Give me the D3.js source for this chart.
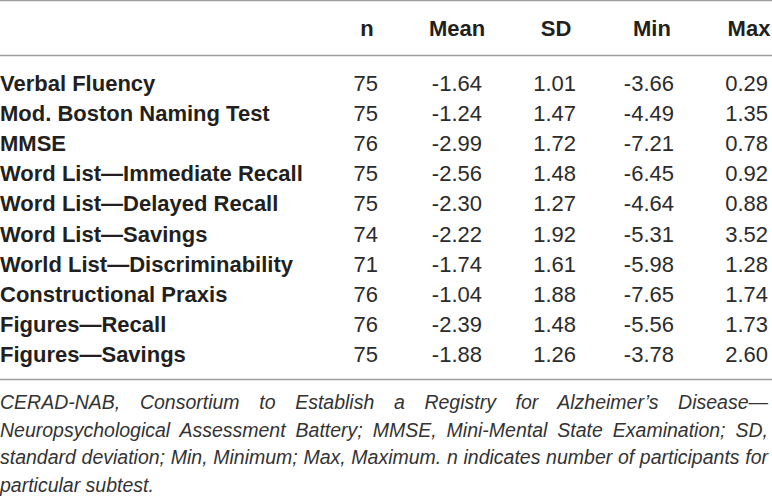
<!DOCTYPE html>
<html>
<head>
<meta charset="utf-8">
<script src="https://cdn.jsdelivr.net/npm/d3@7"></script>
<style>
  html, body { margin: 0; padding: 0; background: #fff; }
  svg { display: block; }
</style>
</head>
<body>
<svg id="chart" width="772" height="498"></svg>
<script>
// ---- data ----
const columns = ["n", "Mean", "SD", "Min", "Max"];
const subtests = [
  "Verbal Fluency",
  "Mod. Boston Naming Test",
  "MMSE",
  "Word List\u2014Immediate Recall",
  "Word List\u2014Delayed Recall",
  "Word List\u2014Savings",
  "World List\u2014Discriminability",
  "Constructional Praxis",
  "Figures\u2014Recall",
  "Figures\u2014Savings"
];
const nValues    = ["75", "75", "76", "75", "75", "74", "71", "76", "76", "75"];
const meanValues = ["-1.64", "-1.24", "-2.99", "-2.56", "-2.30", "-2.22", "-1.74", "-1.04", "-2.39", "-1.88"];
const sdValues   = ["1.01", "1.47", "1.72", "1.48", "1.27", "1.92", "1.61", "1.88", "1.48", "1.26"];
const minValues  = ["-3.66", "-4.49", "-7.21", "-6.45", "-4.64", "-5.31", "-5.98", "-7.65", "-5.56", "-3.78"];
const maxValues  = ["0.29", "1.35", "0.78", "0.92", "0.88", "3.52", "1.28", "1.74", "1.73", "2.60"];
const footnoteLines = [
  "CERAD-NAB, Consortium to Establish a Registry for Alzheimer\u2019s Disease\u2014",
  "Neuropsychological Assessment Battery; MMSE, Mini-Mental State Examination; SD,",
  "standard deviation; Min, Minimum; Max, Maximum. n indicates number of participants for",
  "particular subtest."
];

// ---- layout ----
const svg = d3.select("#chart");
const W = 772;
const font = "'Liberation Sans', Arial, Helvetica, sans-serif";
const valueCols = [nValues, meanValues, sdValues, minValues, maxValues];

const yRow = d3.scalePoint().domain(subtests).range([91, 362]);
const headerX = d3.scaleOrdinal().domain(columns).range([367, 457, 556, 652, 749]);
const valueRightX = d3.scaleOrdinal().domain(columns).range([378, 482, 576, 674, 768]);

// rules
const rules = [0.5, 55.5, 379.5];
svg.selectAll("line.rule").data(rules).join("line")
  .attr("class", "rule")
  .attr("x1", 0).attr("x2", W)
  .attr("y1", d => d).attr("y2", d => d)
  .attr("stroke", "#9d9d9d").attr("stroke-width", 1.3);

// headers
svg.selectAll("text.hdr").data(columns).join("text")
  .attr("class", "hdr")
  .attr("x", d => headerX(d)).attr("y", 36)
  .attr("text-anchor", "middle")
  .attr("font-family", font).attr("font-size", 22).attr("font-weight", "bold")
  .attr("fill", "#231f20")
  .text(d => d);

// row labels
svg.selectAll("text.lbl").data(subtests).join("text")
  .attr("class", "lbl")
  .attr("x", 0).attr("y", d => yRow(d))
  .attr("font-family", font).attr("font-size", 22).attr("font-weight", "bold")
  .attr("fill", "#231f20")
  .text(d => d);

// values
columns.forEach((c, ci) => {
  svg.selectAll("text.v" + ci).data(valueCols[ci]).join("text")
    .attr("class", "v" + ci)
    .attr("x", valueRightX(c))
    .attr("y", (d, i) => yRow(subtests[i]))
    .attr("text-anchor", "end")
    .attr("font-family", font).attr("font-size", 22)
    .attr("fill", "#2b2b2b")
    .text(d => d);
});

// footnote (justified)
const footY = d3.scalePoint().domain(d3.range(footnoteLines.length)).range([409, 492]);
const targetW = 768;
footnoteLines.forEach((line, i) => {
  const t = svg.append("text")
    .attr("x", 0).attr("y", footY(i))
    .attr("font-family", font).attr("font-size", 19.5).attr("font-style", "italic")
    .attr("fill", "#333")
    .text(line);
  if (i < footnoteLines.length - 1) {
    const natural = t.node().getComputedTextLength();
    const spaces = (line.match(/ /g) || []).length;
    if (natural < targetW && spaces > 0) {
      t.attr("word-spacing", (targetW - natural) / spaces);
    } else {
      t.attr("textLength", targetW).attr("lengthAdjust", "spacingAndGlyphs");
    }
  }
});
</script>
</body>
</html>
